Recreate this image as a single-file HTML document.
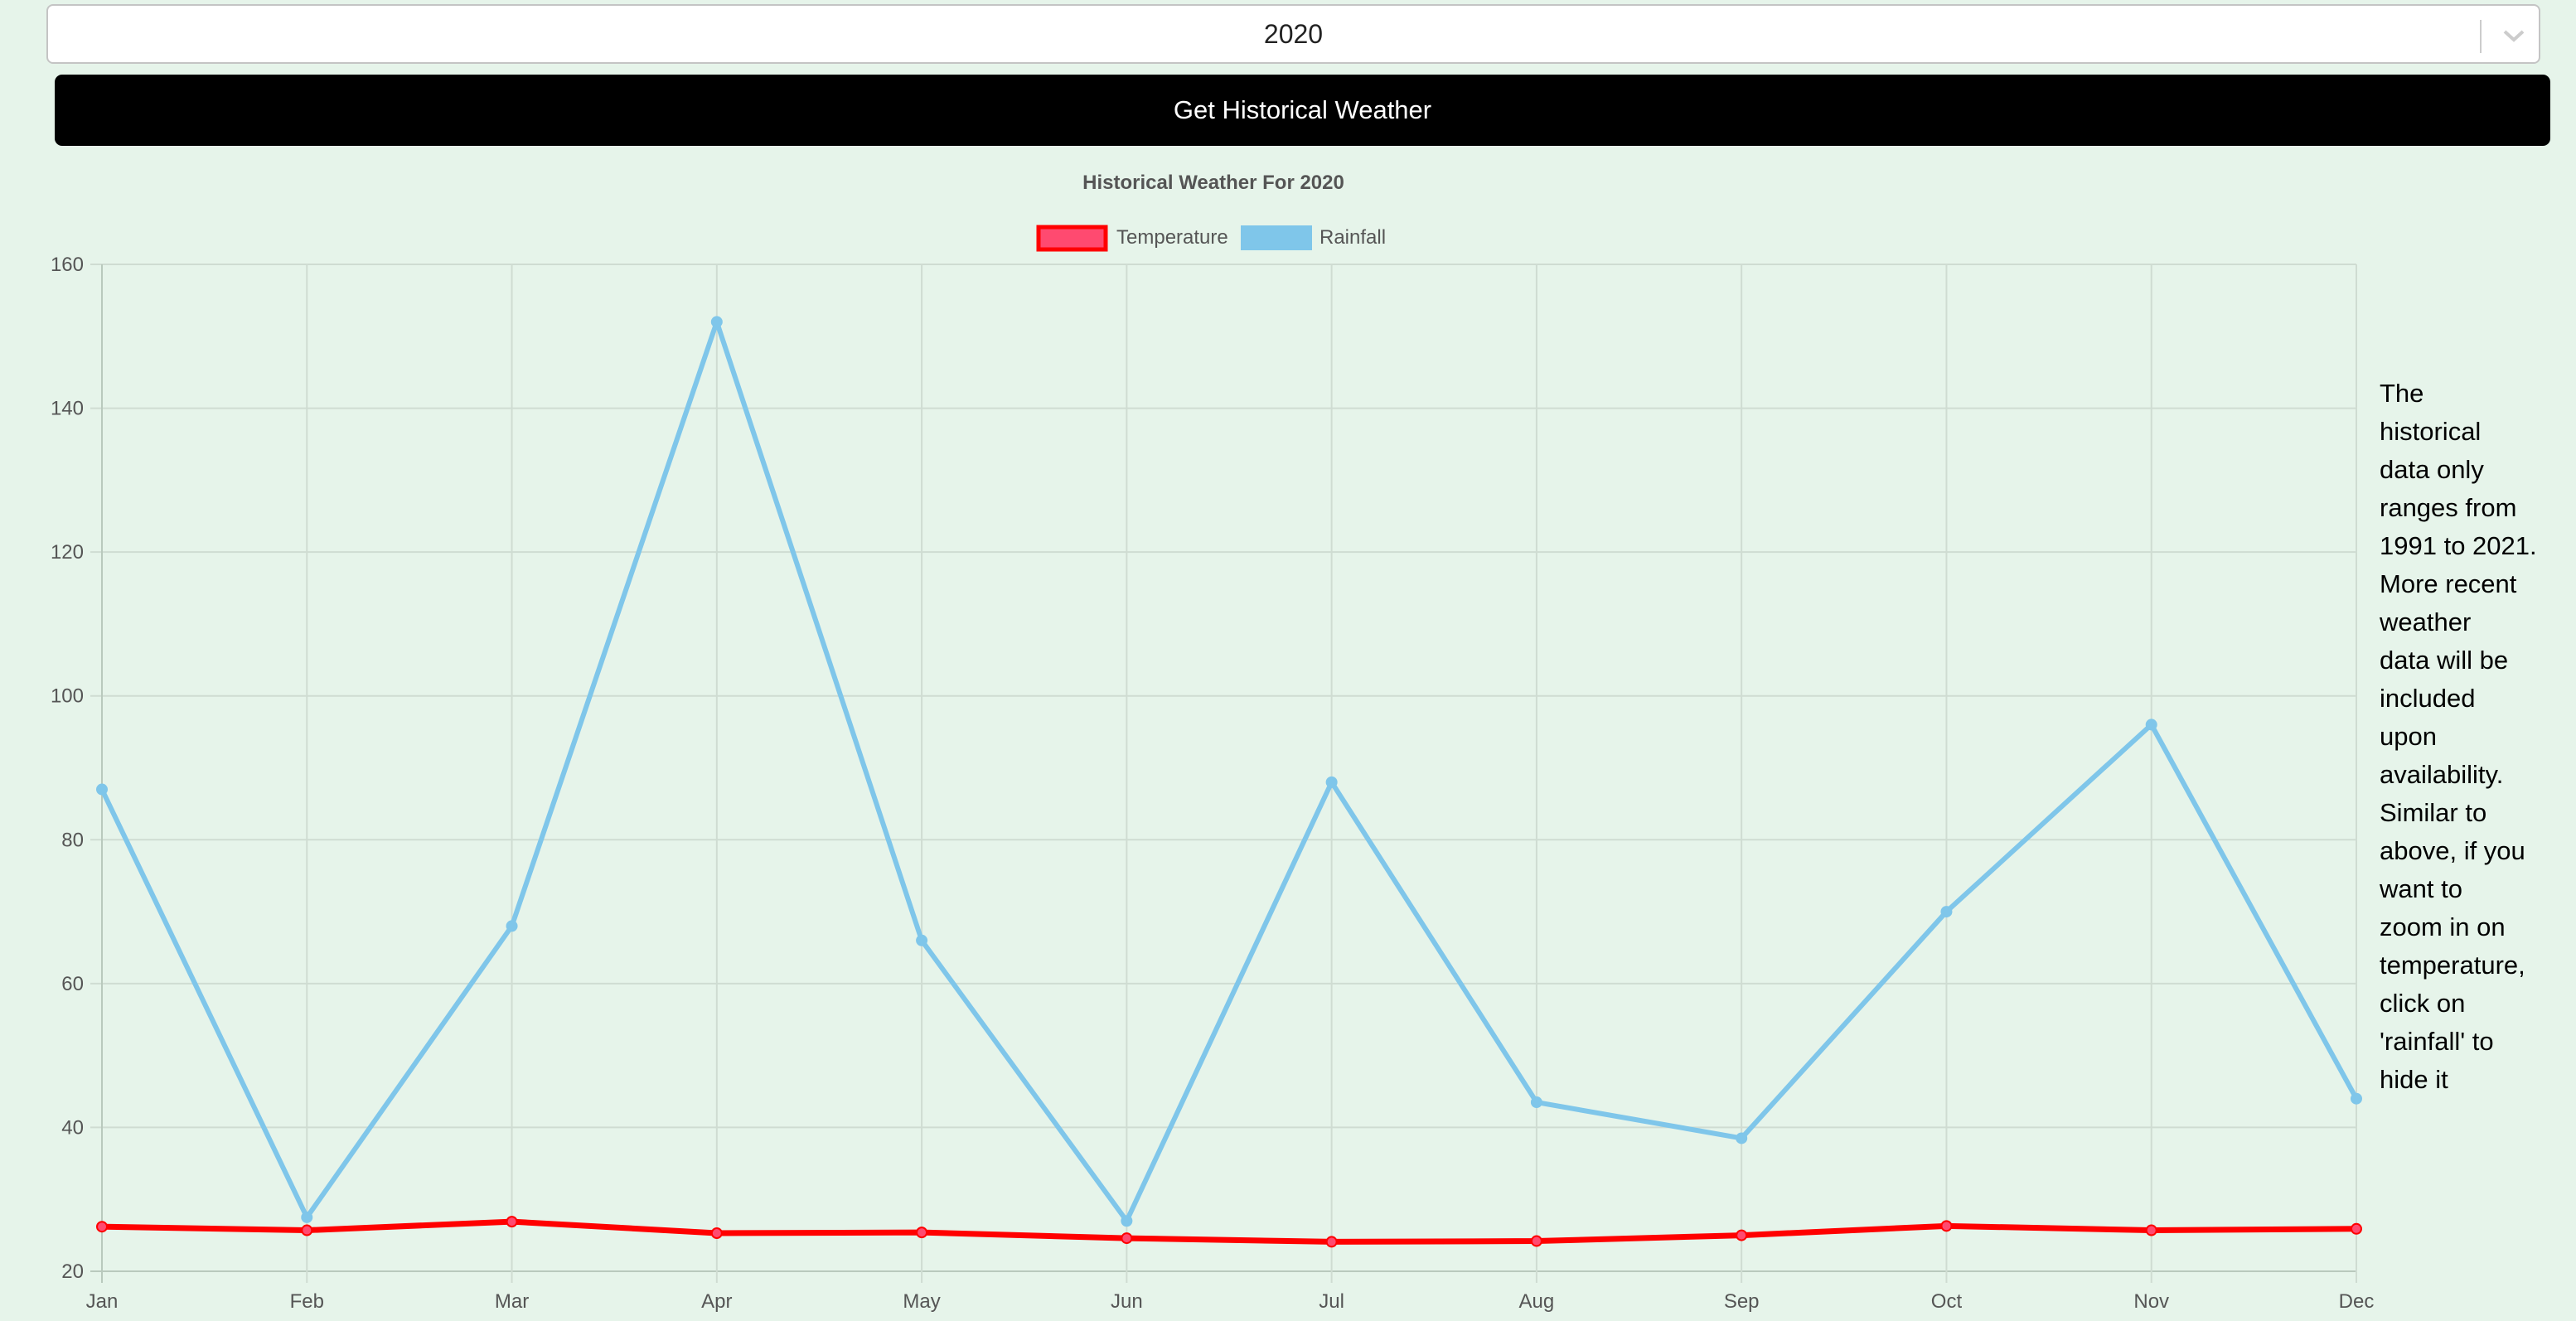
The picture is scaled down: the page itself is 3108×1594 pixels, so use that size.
<!DOCTYPE html>
<html><head><meta charset="utf-8"><style>
html,body{margin:0;padding:0;background:#e6f4ea;width:3108px;height:1594px;overflow:hidden;font-family:"Liberation Sans",sans-serif;}
#dd{position:absolute;left:56px;top:5px;width:3009px;height:72px;background:#fff;border:2px solid #c4c4c4;border-radius:8px;box-sizing:border-box;}
#dd .val{position:absolute;left:0;right:120px;top:0;line-height:68px;text-align:center;font-size:32px;color:#222;padding-left:120px}
#dd .sep{position:absolute;left:2934px;top:17px;width:2px;height:40px;background:#ccc}
#btn{position:absolute;left:66px;top:90px;width:3011px;height:86px;background:#000;border-radius:9px;color:#fff;font-size:31px;text-align:center;line-height:86px}
#note{position:absolute;left:2871px;top:452px;width:240px;font-size:31px;line-height:46px;color:#000;white-space:nowrap}
</style></head><body>
<div id="dd"><div class="val">2020</div><div class="sep"></div>
<svg style="position:absolute;left:2960px;top:26px" width="30" height="20"><polyline points="4,5 15,15 26,5" fill="none" stroke="#ccc" stroke-width="4"/></svg></div>
<div id="btn">Get Historical Weather</div>
<div id="note">The<br>historical<br>data only<br>ranges from<br>1991 to 2021.<br>More recent<br>weather<br>data will be<br>included<br>upon<br>availability.<br>Similar to<br>above, if you<br>want to<br>zoom in on<br>temperature,<br>click on<br>'rainfall' to<br>hide it</div>
<svg id="chart" width="3108" height="1594" style="position:absolute;left:0;top:0"></svg>
<script>
const months=["Jan","Feb","Mar","Apr","May","Jun","Jul","Aug","Sep","Oct","Nov","Dec"];
const rainfall=[87,27.5,68,152,66,27,88,43.5,38.5,70,96,44];
const temperature=[26.2,25.7,26.9,25.3,25.4,24.6,24.1,24.2,25.0,26.3,25.7,25.9];
const yTicks=[20,40,60,80,100,120,140,160];
const NS="http://www.w3.org/2000/svg";
const svg=document.getElementById('chart');
const L=123,R=2843,T=319,B=1534,ymin=20,ymax=160;
const xs=i=>L+i*(R-L)/(months.length-1);
const ys=v=>B-(v-ymin)/(ymax-ymin)*(B-T);
function mk(tag,attrs,parent){const e=document.createElementNS(NS,tag);for(const k in attrs)e.setAttribute(k,attrs[k]);(parent||svg).appendChild(e);return e;}
yTicks.forEach(v=>{
 const l=mk('line',{x1:L-14,x2:R,y1:ys(v),y2:ys(v),stroke:v===20?'#b9c9bd':'#cfdcd2','stroke-width':2});
 
 
 const t=mk('text',{x:L-22,y:ys(v)+8,'text-anchor':'end','font-size':24,fill:'#555','font-family':'Liberation Sans'});
 t.textContent=v;
 
 
});
months.forEach((m,i)=>{
 const l=mk('line',{x1:xs(i),x2:xs(i),y1:T,y2:B+14,stroke:i===0?'#b9c9bd':'#cfdcd2','stroke-width':2});
 
 
 const t=mk('text',{x:xs(i),y:B+44,'text-anchor':'middle','font-size':24,fill:'#555','font-family':'Liberation Sans'});
 t.textContent=m;
 
 
});
function series(vals,color,fill,w,r,name){
 const p=mk('polyline',{points:vals.map((v,i)=>xs(i)+','+ys(v)).join(' '),fill:'none',stroke:color,'stroke-width':w,'stroke-linejoin':'round'});
 
 
 vals.forEach((v,i)=>{
  const c=mk('circle',{cx:xs(i),cy:ys(v),r:r,fill:fill,stroke:color,'stroke-width':2});
  
  
 });
}
series(rainfall,'#7fc6ea','#7fc6ea',6,6,'rainfall');
series(temperature,'#ff0000','#ff4a70',7,6,'temperature');
const title=mk('text',{x:1464,y:228,'text-anchor':'middle','font-size':24,'font-weight':'bold',fill:'#555','font-family':'Liberation Sans'});
title.textContent='Historical Weather For 2020';


const lg1=mk('rect',{x:1253,y:274,width:81,height:27,fill:'#ff4a70',stroke:'#ff0000','stroke-width':5});


const lt1=mk('text',{x:1347,y:294,'font-size':24,fill:'#555','font-family':'Liberation Sans'});
lt1.textContent='Temperature';


const lg2=mk('rect',{x:1497,y:272,width:86,height:30,fill:'#7fc6ea'});


const lt2=mk('text',{x:1592,y:294,'font-size':24,fill:'#555','font-family':'Liberation Sans'});
lt2.textContent='Rainfall';


</script>
</body></html>
